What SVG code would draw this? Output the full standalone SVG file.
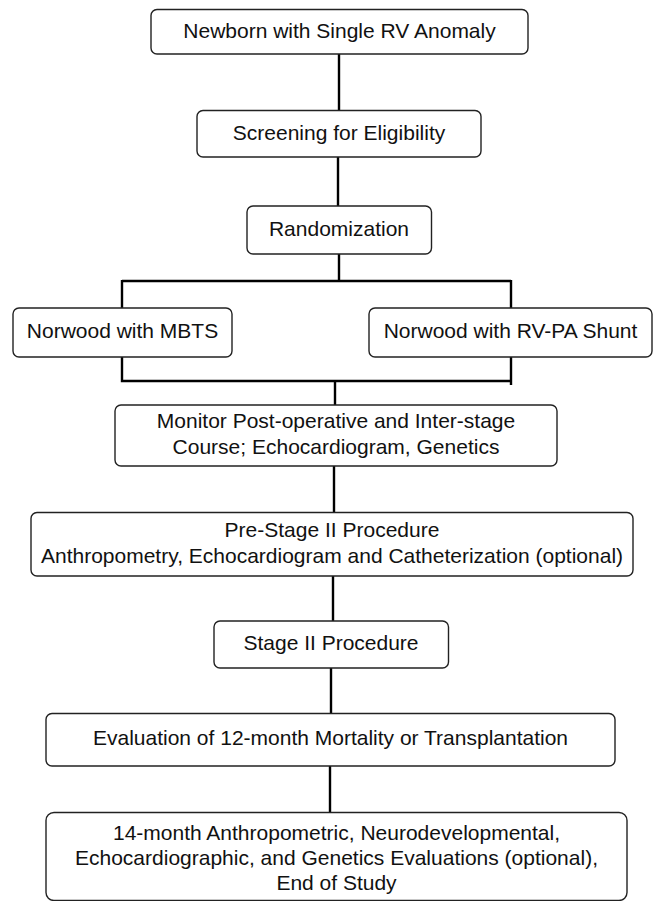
<svg xmlns="http://www.w3.org/2000/svg" width="655" height="901" viewBox="0 0 655 901">
<style>
.box{fill:#fff;stroke:#222;stroke-width:1.4}
.t{font-family:"Liberation Sans",Arial,sans-serif;font-size:21px;fill:#111;text-anchor:middle}
.c{stroke:#000;stroke-width:2.4;fill:none}
</style>
<rect width="655" height="901" fill="#fff"/>
<g id="connectors">
<path class="c" d="M339,54V110"/>
<path class="c" d="M338,157V206"/>
<path class="c" d="M339,254V281M122,281H511M122,280V308M511,280V308"/>
<path class="c" d="M122,357V381H335M511,357V385M335,381H511M335,381V405"/>
<path class="c" d="M334,466V512"/>
<path class="c" d="M333,576V621"/>
<path class="c" d="M331,668V713"/>
<path class="c" d="M330,766V812"/>
</g>
<g id="n1"><rect class="box" x="151" y="9.5" width="377" height="44.5" rx="6"/><text class="t" x="339.5" y="38">Newborn with Single RV Anomaly</text></g>
<g id="n2"><rect class="box" x="197" y="110.5" width="284" height="46.5" rx="6"/><text class="t" x="339" y="139.5">Screening for Eligibility</text></g>
<g id="n3"><rect class="box" x="247" y="206" width="184.5" height="48" rx="6"/><text class="t" x="339" y="236">Randomization</text></g>
<g id="n4"><rect class="box" x="13" y="308" width="219" height="49" rx="6"/><text class="t" x="122.5" y="338">Norwood with MBTS</text></g>
<g id="n5"><rect class="box" x="369" y="308" width="283" height="49" rx="6"/><text class="t" x="510.5" y="338">Norwood with RV-PA Shunt</text></g>
<g id="n6"><rect class="box" x="115" y="405" width="442" height="61" rx="6"/><text class="t" x="336" y="428">Monitor Post-operative and Inter-stage</text><text class="t" x="336" y="453.5">Course; Echocardiogram, Genetics</text></g>
<g id="n7"><rect class="box" x="31" y="512.5" width="602" height="63.5" rx="6"/><text class="t" x="332" y="537">Pre-Stage II Procedure</text><text class="t" x="332" y="562.5" font-size="20.5">Anthropometry, Echocardiogram and Catheterization (optional)</text></g>
<g id="n8"><rect class="box" x="214" y="621" width="234.5" height="47" rx="6"/><text class="t" x="331" y="650">Stage II Procedure</text></g>
<g id="n9"><rect class="box" x="46" y="713.5" width="569" height="52.5" rx="6"/><text class="t" x="330.5" y="745">Evaluation of 12-month Mortality or Transplantation</text></g>
<g id="n10"><rect class="box" x="46" y="812.5" width="581" height="88" rx="8"/><text class="t" x="336.5" y="840">14-month Anthropometric, Neurodevelopmental,</text><text class="t" x="336.5" y="865">Echocardiographic, and Genetics Evaluations (optional),</text><text class="t" x="336.5" y="890">End of Study</text></g>
</svg>
